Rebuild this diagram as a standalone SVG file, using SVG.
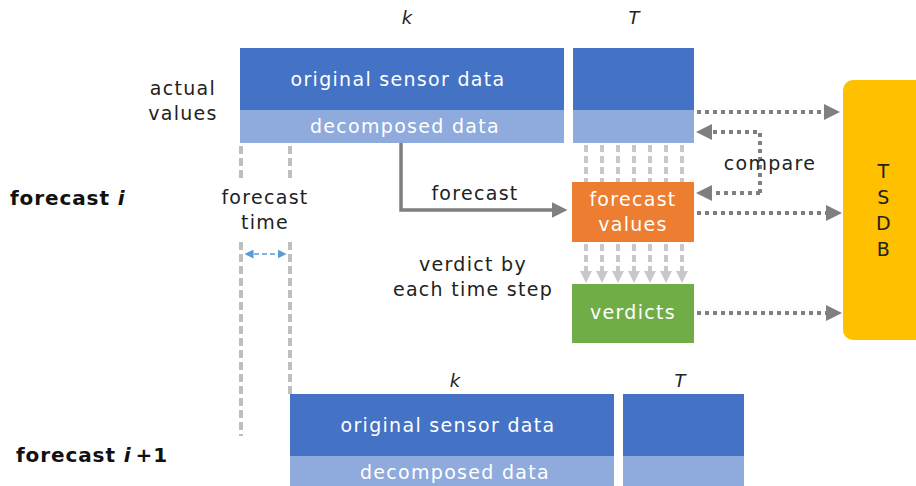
<svg xmlns="http://www.w3.org/2000/svg" width="916" height="486" viewBox="0 0 916 486">
<style>
text{font-family:"DejaVu Sans","Liberation Sans",sans-serif;}
.w{fill:#fff;font-size:19px;text-anchor:middle;letter-spacing:1.3px;}
.b{fill:#222;font-size:19px;text-anchor:middle;letter-spacing:1.3px;}
.bold{fill:#111;font-size:20px;font-weight:bold;letter-spacing:0.9px;}
.it{fill:#222;font-size:18px;font-style:italic;text-anchor:middle;}
.dark{fill:#4472C4;}
.light{fill:#8FAADC;}
.dot{stroke:#7F7F7F;stroke-width:4;stroke-dasharray:4 4;fill:none;}
.lg{stroke:#BFBFBF;stroke-width:4;stroke-dasharray:8 4;fill:none;}
.gv{stroke:#C8C8C8;stroke-width:4;stroke-dasharray:7 4;fill:none;}
</style>
<defs>
<marker id="ag" markerWidth="4" markerHeight="4" refX="3" refY="2" orient="auto" markerUnits="strokeWidth"><path d="M0,0 L4,2 L0,4 Z" fill="#7F7F7F"/></marker>
<marker id="al" markerWidth="3" markerHeight="3" refX="2" refY="1.5" orient="auto" markerUnits="strokeWidth"><path d="M0,0 L3,1.5 L0,3 Z" fill="#C8C8C8"/></marker>
<marker id="ab" markerWidth="6" markerHeight="6" refX="5" refY="3" orient="auto-start-reverse" markerUnits="strokeWidth"><path d="M0,0 L6,3 L0,6 Z" fill="#5B9BD5"/></marker>
<marker id="af" markerWidth="4.5" markerHeight="4.5" refX="3.5" refY="2.25" orient="auto" markerUnits="strokeWidth"><path d="M0,0 L4.5,2.25 L0,4.5 Z" fill="#7F7F7F"/></marker>
</defs>

<g id="connectors">
<line class="lg" x1="241" y1="146" x2="241" y2="436"/>
<line class="lg" x1="290" y1="146" x2="290" y2="394"/>
<rect x="196" y="181" width="134" height="58" fill="#fff"/>
<line x1="246" y1="254" x2="285" y2="254" stroke="#5B9BD5" stroke-width="1.5" stroke-dasharray="5 3" marker-start="url(#ab)" marker-end="url(#ab)"/>
<polyline points="401,143 401,210 564,210" fill="none" stroke="#7F7F7F" stroke-width="3.5" marker-end="url(#af)"/>
<g class="gv">
<line x1="586" y1="145" x2="586" y2="182"/><line x1="602" y1="145" x2="602" y2="182"/><line x1="618" y1="145" x2="618" y2="182"/><line x1="634" y1="145" x2="634" y2="182"/><line x1="650" y1="145" x2="650" y2="182"/><line x1="666" y1="145" x2="666" y2="182"/><line x1="682" y1="145" x2="682" y2="182"/>
</g>
<g class="gv">
<line x1="586" y1="244" x2="586" y2="279" marker-end="url(#al)"/><line x1="602" y1="244" x2="602" y2="279" marker-end="url(#al)"/><line x1="618" y1="244" x2="618" y2="279" marker-end="url(#al)"/><line x1="634" y1="244" x2="634" y2="279" marker-end="url(#al)"/><line x1="650" y1="244" x2="650" y2="279" marker-end="url(#al)"/><line x1="666" y1="244" x2="666" y2="279" marker-end="url(#al)"/><line x1="682" y1="244" x2="682" y2="279" marker-end="url(#al)"/>
</g>
<line class="dot" x1="697" y1="112" x2="836" y2="112" marker-end="url(#ag)"/>
<polyline class="dot" points="760,193 760,132 700,132" marker-end="url(#ag)"/>
<line class="dot" x1="760" y1="193" x2="700" y2="193" marker-end="url(#ag)"/>
<line class="dot" x1="697" y1="213" x2="838" y2="213" marker-end="url(#ag)"/>
<line class="dot" x1="697" y1="313" x2="838" y2="313" marker-end="url(#ag)"/>
</g>

<g id="labels">
<text class="it" x="407" y="24">k</text>
<text class="it" x="634" y="24">T</text>
<text class="it" x="455" y="387">k</text>
<text class="it" x="680" y="387">T</text>
<text class="b" x="183" y="95">actual</text>
<text class="b" x="183" y="120">values</text>
<text class="bold" x="10" y="205">forecast <tspan font-style="italic">i</tspan></text>
<text class="bold" x="16" y="462">forecast <tspan font-style="italic">i</tspan><tspan dx="4">+1</tspan></text>
<text class="b" x="265" y="204">forecast</text>
<text class="b" x="265" y="229">time</text>
<text class="b" x="475" y="200">forecast</text>
<text class="b" x="473" y="271">verdict by</text>
<text class="b" x="473" y="296">each time step</text>
<text class="b" x="770" y="170">compare</text>
</g>

<g id="block-i">
<rect class="dark" x="240" y="48" width="324" height="62"/>
<rect class="light" x="240" y="110" width="324" height="33"/>
<text class="w" x="398" y="86">original sensor data</text>
<text class="w" x="405" y="133">decomposed data</text>
<rect class="dark" x="573" y="48" width="121" height="62"/>
<rect class="light" x="573" y="110" width="121" height="33"/>
</g>

<g id="forecast-values">
<rect x="572" y="182" width="122" height="60" fill="#ED7D31"/>
<text class="w" x="633" y="206">forecast</text>
<text class="w" x="633" y="231">values</text>
</g>

<g id="verdicts">
<rect x="572" y="284" width="122" height="59" fill="#70AD47"/>
<text class="w" x="633" y="319">verdicts</text>
</g>

<g id="tsdb">
<rect x="843" y="80" width="90" height="260" rx="10" fill="#FFC000"/>
<text class="b" x="884" y="178">T</text>
<text class="b" x="884" y="204">S</text>
<text class="b" x="884" y="230">D</text>
<text class="b" x="884" y="256">B</text>
</g>

<g id="block-i1">
<rect class="dark" x="290" y="394" width="324" height="62"/>
<rect class="light" x="290" y="456" width="324" height="30"/>
<text class="w" x="448" y="432">original sensor data</text>
<text class="w" x="455" y="479">decomposed data</text>
<rect class="dark" x="623" y="394" width="121" height="62"/>
<rect class="light" x="623" y="456" width="121" height="30"/>
</g>
</svg>
